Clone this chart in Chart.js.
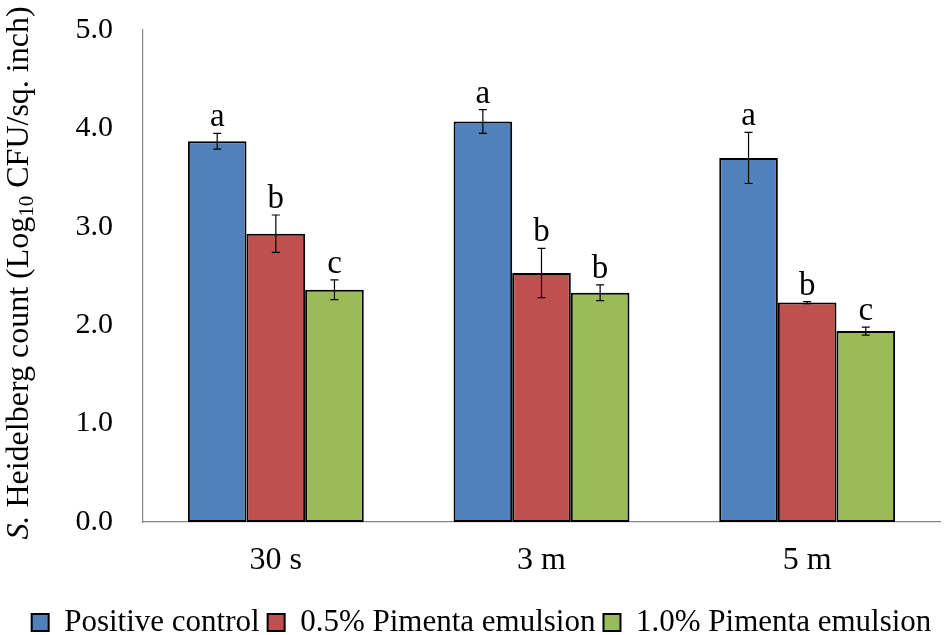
<!DOCTYPE html>
<html>
<head>
<meta charset="utf-8">
<script src="https://cdn.jsdelivr.net/npm/chart.js@4.4.0/dist/chart.umd.min.js"></script>
<style>
  html, body { margin: 0; padding: 0; background: #fff; }
  #wrap { width: 950px; height: 635px; }
</style>
</head>
<body>
<div id="wrap"><canvas id="chart"></canvas></div>
<script>
// values
const categories = ['30 s', '3 m', '5 m'];
const seriesNames = ['Positive control', '0.5% Pimenta emulsion', '1.0% Pimenta emulsion'];
const positiveControl = [3.87, 4.07, 3.70];
const pimenta05 = [2.93, 2.53, 2.23];
const pimenta10 = [2.36, 2.33, 1.94];
const positiveControlErr = [0.08, 0.12, 0.26];
const pimenta05Err = [0.19, 0.25, 0.01];
const pimenta10Err = [0.10, 0.08, 0.04];
const positiveControlLetters = ['a', 'a', 'a'];
const pimenta05Letters = ['b', 'b', 'b'];
const pimenta10Letters = ['c', 'b', 'c'];
const yTicks = [0, 1, 2, 3, 4, 5];

const serif = '"Liberation Serif", "Times New Roman", serif';
const errors = [positiveControlErr, pimenta05Err, pimenta10Err];
const letters = [positiveControlLetters, pimenta05Letters, pimenta10Letters];

// error bars + significance letters
const errorBarPlugin = {
  id: 'errorBars',
  afterDatasetsDraw(chart) {
    const ctx = chart.ctx;
    const y = chart.scales.y;
    ctx.save();
    chart.data.datasets.forEach((ds, i) => {
      const meta = chart.getDatasetMeta(i);
      meta.data.forEach((bar, j) => {
        const v = ds.data[j];
        const e = errors[i][j];
        const top = y.getPixelForValue(v + e);
        const bot = y.getPixelForValue(v - e);
        ctx.strokeStyle = '#000';
        ctx.lineWidth = 1.2;
        ctx.beginPath();
        ctx.moveTo(bar.x, top); ctx.lineTo(bar.x, bot);
        ctx.moveTo(bar.x - 4, top); ctx.lineTo(bar.x + 4, top);
        ctx.moveTo(bar.x - 4, bot); ctx.lineTo(bar.x + 4, bot);
        ctx.stroke();
        ctx.fillStyle = '#000';
        ctx.font = '33px ' + serif;
        ctx.textAlign = 'center';
        ctx.textBaseline = 'alphabetic';
        ctx.fillText(letters[i][j], bar.x, top - 7);
      });
    });
    ctx.restore();
  }
};

// rotated y title with italic S. and subscript 10
const yTitlePlugin = {
  id: 'yTitle',
  afterDraw(chart) {
    const ctx = chart.ctx;
    const size = 32;
    const parts = [
      { t: 'S.', f: 'italic ' + size + 'px ' + serif, dy: 0 },
      { t: ' Heidelberg count (Log', f: size + 'px ' + serif, dy: 0 },
      { t: '10', f: Math.round(size * 0.65) + 'px ' + serif, dy: 5 },
      { t: ' CFU/sq. inch)', f: size + 'px ' + serif, dy: 0 }
    ];
    ctx.save();
    let total = 0;
    parts.forEach(p => { ctx.font = p.f; p.w = ctx.measureText(p.t).width; total += p.w; });
    ctx.translate(28, 273);
    ctx.rotate(-Math.PI / 2);
    ctx.fillStyle = '#000';
    ctx.textBaseline = 'alphabetic';
    ctx.textAlign = 'left';
    let x = -total / 2;
    parts.forEach(p => { ctx.font = p.f; ctx.fillText(p.t, x, p.dy); x += p.w; });
    ctx.restore();
  }
};

function makeSet(label, data, color) {
  return {
    label: label,
    data: data,
    backgroundColor: color,
    borderColor: '#000',
    borderWidth: 2,
    borderSkipped: false,
    categoryPercentage: 0.662,
    barPercentage: 1.0
  };
}

const ctx = document.getElementById('chart').getContext('2d');
new Chart(ctx, {
  type: 'bar',
  data: {
    labels: categories,
    datasets: [
      makeSet(seriesNames[0], positiveControl, '#4F81BD'),
      makeSet(seriesNames[1], pimenta05, '#C0504D'),
      makeSet(seriesNames[2], pimenta10, '#9BBB59')
    ]
  },
  options: {
    responsive: true,
    maintainAspectRatio: false,
    animation: false,
    layout: { padding: { left: 23, right: 10, top: 30, bottom: -13 } },
    plugins: {
      legend: {
        position: 'bottom',
        labels: {
          boxWidth: 17,
          boxHeight: 17,
          padding: 8,
          color: '#000',
          font: { family: serif, size: 31 }
        }
      },
      tooltip: { enabled: false }
    },
    scales: {
      x: {
        grid: { display: false },
        border: { display: true, color: '#868686', width: 1.2 },
        ticks: { color: '#000', font: { family: serif, size: 32 }, padding: 11 },
        afterFit: s => { s.height = 77; s.paddingLeft = 0; s.paddingRight = 0; }
      },
      y: {
        min: 0,
        max: 5,
        afterBuildTicks: s => { s.ticks = yTicks.map(v => ({ value: v })); },
        grid: { display: false },
        border: { display: true, color: '#868686', width: 1.2 },
        ticks: {
          color: '#000',
          font: { family: serif, size: 30 },
          padding: 22,
          callback: v => Number(v).toFixed(1)
        },
        afterFit: s => { s.width = 120; s.paddingTop = 0; s.paddingBottom = 0; }
      }
    }
  },
  plugins: [errorBarPlugin, yTitlePlugin]
});
</script>
</body>
</html>
